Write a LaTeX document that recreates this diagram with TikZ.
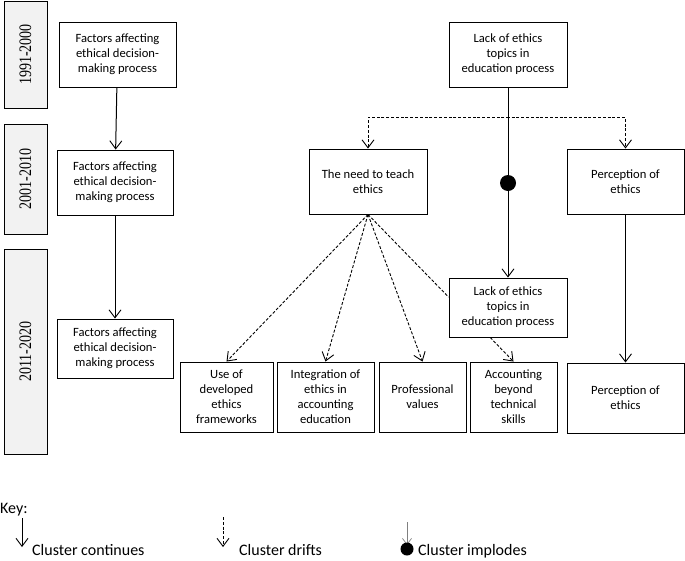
\documentclass[tikz,border=0pt]{standalone}
\usepackage{fontspec}
\setmainfont{Carlito}
\newfontfamily\serifyr{Liberation Serif}
\usetikzlibrary{arrows.meta,calc}
\definecolor{periodgray}{HTML}{F2F2F2}
\begin{document}
\begin{tikzpicture}[x=1pt,y=-1pt,
  bx/.style n args={2}{draw, line width=0.9pt, align=center, inner sep=0pt,
     minimum width=#1, minimum height=#2, font=\fontsize{12.6}{15}\selectfont},
  period/.style n args={2}{draw, line width=0.9pt, fill=periodgray, inner sep=0pt,
     minimum width=#1, minimum height=#2},
  periodtxt/.style={rotate=90, inner sep=0pt, font=\serifyr\fontsize{14}{16}\selectfont},
  tip/.style={-{Straight Barb[length=8pt,width=12pt,line width=0.9pt]}},
  cont/.style={tip, line width=1pt},
  drift/.style={tip, line width=0.9pt, dash pattern=on 3pt off 1.8pt},
  keytxt/.style={anchor=base west, inner sep=0pt, font=\fontsize{16}{18}\selectfont}]
\useasboundingbox (0,0) rectangle (685,560);

% period boxes
\node[period={43}{107}] (p1) at (25.5,54.5) {};
\node[periodtxt] (p1t) at (p1) {\scalebox{1}[1.25]{1991-2000}};
\node[period={43}{110}] (p2) at (25.5,179) {};
\node[periodtxt] (p2t) at (p2) {\scalebox{1}[1.25]{2001-2010}};
\node[period={43}{205}] (p3) at (25.5,351.5) {};
\node[periodtxt] (p3t) at (p3) {\scalebox{1}[1.25]{2011-2020}};

% left column
\node[bx={117}{65}] (f1) at (117.5,54.5) {Factors affecting\\ethical decision-\\making process};
\node[bx={116}{65}] (f2) at (115,182.5) {Factors affecting\\ethical decision-\\making process};
\node[bx={116}{59}] (f3) at (115,348.5) {Factors affecting\\ethical decision-\\making process};

% right part
\node[bx={118}{65}] (lack) at (508,54.5) {Lack of ethics\\topics in\\education process};
\node[bx={118}{65}] (need) at (368,181.5) {The need to teach\\ethics};
\node[bx={117}{65}] (perc) at (625.5,181.5) {Perception of\\ethics};
\node[bx={118}{59}] (lack2) at (508,307.5) {Lack of ethics\\topics in\\education process};

\node[bx={93}{70}] (use) at (226.5,397) {Use of\\developed\\ethics\\frameworks};
\node[bx={97}{70}] (integ) at (325.5,397) {Integration of\\ethics in\\accounting\\education};
\node[bx={87}{70}] (prof) at (422.5,397) {Professional\\values};
\node[bx={87}{70}] (acct) at (513.5,397) {Accounting\\beyond\\technical\\skills};
\node[bx={117}{70}] (perc2) at (625.5,398) {Perception of\\ethics};

\node[circle, fill=black, inner sep=0pt, minimum size=16pt] (dot) at (508,183) {};

% connectors
\draw[cont] (f1) -- (f2);
\draw[cont] (f2) -- (f3);
\draw[drift] (lack.south) -- ++(0,30) -| (need.north);
\draw[drift] (lack.south) -- ++(0,30) -| (perc.north);
\draw[line width=1pt] (lack.south) -- (dot);
\draw[cont] (dot) -- (lack2.north);
\draw[cont] (perc) -- (perc2);
\draw[drift] (need.south) -- (use.north);
\draw[drift] (need.south) -- (integ.north);
\draw[drift] (need.south) -- (prof.north);
\draw[line width=0.9pt, dash pattern=on 3pt off 1.8pt] (need.south) -- (lack2.west |- 0,297);
\draw[drift] ($(lack2.south west)!0.35!(lack2.south east)$) -- (acct.north);

% key
\node[keytxt] (key) at (0,513) {Key:};
\coordinate (k1a) at (22,518);
\coordinate (k1b) at (22,547);
\draw[cont] (k1a) -- (k1b);
\node[keytxt] (k1t) at (32,555) {Cluster continues};
\coordinate (k2a) at (223,517);
\coordinate (k2b) at (223,547);
\draw[drift] (k2a) -- (k2b);
\node[keytxt] (k2t) at (239,555) {Cluster drifts};
\coordinate (k3a) at (407,522);
\coordinate (k3b) at (407,545);
\draw[-{Straight Barb[length=6pt,width=9pt,line width=0.7pt]}, gray, line width=0.7pt] (k3a) -- (k3b);
\node[circle, fill=black, inner sep=0pt, minimum size=13pt] (kdot) at (407,549) {};
\node[keytxt] (k3t) at (418,555) {Cluster implodes};
\end{tikzpicture}
\end{document}
